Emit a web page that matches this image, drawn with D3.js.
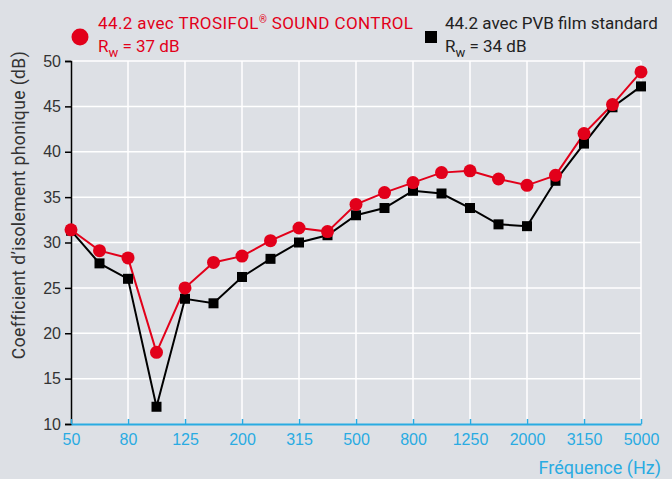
<!DOCTYPE html>
<html>
<head>
<meta charset="utf-8">
<script src="https://cdn.jsdelivr.net/npm/d3@7"></script>
<style>
  html, body { margin: 0; padding: 0; background: #dde0e5; }
  svg { display: block; font-family: Roboto, "Noto Sans", sans-serif; }
</style>
</head>
<body>
<div id="chart"></div>
<script>
// 1/3-octave bands (Hz)
const freqs = ["50", "63", "80", "100", "125", "160", "200", "250", "315", "400", "500",
  "630", "800", "1000", "1250", "1600", "2000", "2500", "3150", "4000", "5000"];
const tickLabels = ["50", "80", "125", "200", "315", "500", "800", "1250", "2000", "3150", "5000"];
const trosifol = [31.4, 29.1, 28.3, 17.9, 25.0, 27.8, 28.5, 30.2, 31.6, 31.2, 34.2,
  35.5, 36.6, 37.7, 37.9, 37.0, 36.3, 37.4, 42.0, 45.2, 48.8];
const pvb = [31.3, 27.7, 26.0, 11.9, 23.8, 23.3, 26.2, 28.2, 30.0, 30.8, 33.0,
  33.8, 35.7, 35.4, 33.8, 32.0, 31.8, 36.8, 40.9, 44.9, 47.2];
const yTicks = [10, 15, 20, 25, 30, 35, 40, 45, 50];

const W = 672, H = 479;
const m = { t: 61, r: 31, b: 55, l: 71 };
const RED = "#e2001a", BLUE = "#29abe2";

const svg = d3.select("#chart").append("svg").attr("width", W).attr("height", H);

const x = d3.scalePoint().domain(freqs).range([m.l, W - m.r]);
const y = d3.scaleLinear().domain([10, 50]).range([H - m.b, m.t]);

// grid
const grid = svg.append("g");
grid.selectAll("line.h").data(yTicks.slice(1)).join("line")
  .attr("x1", m.l).attr("x2", W - m.r)
  .attr("y1", d => y(d)).attr("y2", d => y(d))
  .attr("stroke", "#fff").attr("stroke-width", 1.5);
grid.selectAll("line.v").data(tickLabels.slice(1)).join("line")
  .attr("x1", d => x(d)).attr("x2", d => x(d))
  .attr("y1", m.t).attr("y2", H - m.b)
  .attr("stroke", "#fff").attr("stroke-width", 1.5);

// y axis
const yAxis = svg.append("g").attr("transform", `translate(${m.l},0)`)
  .call(d3.axisLeft(y).tickValues(yTicks).tickSize(6).tickPadding(4));
yAxis.select(".domain").attr("stroke", "#000").attr("stroke-width", 1.5);
yAxis.selectAll(".tick line").attr("stroke", "#000").attr("stroke-width", 1.5);
yAxis.selectAll("text").attr("fill", "#333").style("font-size", "16px");

// x axis
const xAxis = svg.append("g").attr("transform", `translate(0,${H - m.b})`)
  .call(d3.axisBottom(x).tickValues(tickLabels).tickSize(-5).tickPadding(10).tickSizeOuter(0));
xAxis.select(".domain").attr("stroke", BLUE).attr("stroke-width", 2);
xAxis.selectAll(".tick line").attr("stroke", BLUE).attr("stroke-width", 1.5);
xAxis.selectAll("text").attr("fill", BLUE).style("font-size", "16px");

// axis titles
svg.append("text")
  .attr("transform", "translate(25,205) rotate(-90)")
  .attr("text-anchor", "middle").attr("fill", "#333")
  .style("font-size", "17.5px").style("letter-spacing", "0.4px")
  .text("Coefficient d’isolement phonique (dB)");
svg.append("text")
  .attr("x", 661).attr("y", 474).attr("text-anchor", "end")
  .attr("fill", BLUE).style("font-size", "18px")
  .text("Fréquence (Hz)");

// lines
const line = vals => d3.line().x((d, i) => x(freqs[i])).y(d => y(d))(vals);
svg.append("path").attr("d", line(pvb)).attr("fill", "none").attr("stroke", "#000").attr("stroke-width", 2);
svg.append("path").attr("d", line(trosifol)).attr("fill", "none").attr("stroke", RED).attr("stroke-width", 2);

const sq = 10;
svg.append("g").selectAll("rect").data(pvb).join("rect")
  .attr("x", (d, i) => x(freqs[i]) - sq / 2).attr("y", d => y(d) - sq / 2)
  .attr("width", sq).attr("height", sq).attr("fill", "#000");
svg.append("g").selectAll("circle").data(trosifol).join("circle")
  .attr("cx", (d, i) => x(freqs[i])).attr("cy", d => y(d))
  .attr("r", 6.5).attr("fill", RED);

// legend
const lg = svg.append("g").style("font-size", "17px");
lg.append("circle").attr("cx", 80).attr("cy", 37).attr("r", 8.5).attr("fill", RED);
const t1 = lg.append("text").attr("x", 98).attr("y", 29).attr("fill", RED).style("letter-spacing", "0.4px");
t1.append("tspan").text("44.2 avec TROSIFOL");
t1.append("tspan").attr("dy", -6).style("font-size", "10px").text("®");
t1.append("tspan").attr("dy", 6).text(" SOUND CONTROL");
const t2 = lg.append("text").attr("x", 98).attr("y", 52).attr("fill", RED);
t2.append("tspan").text("R");
t2.append("tspan").attr("dy", 5).style("font-size", "13px").text("w");
t2.append("tspan").attr("dy", -5).text(" = 37 dB");

lg.append("rect").attr("x", 425).attr("y", 31).attr("width", 12).attr("height", 12).attr("fill", "#000");
lg.append("text").attr("x", 445).attr("y", 29).attr("fill", "#222").text("44.2 avec PVB film standard");
const t3 = lg.append("text").attr("x", 445).attr("y", 52).attr("fill", "#222");
t3.append("tspan").text("R");
t3.append("tspan").attr("dy", 5).style("font-size", "13px").text("w");
t3.append("tspan").attr("dy", -5).text(" = 34 dB");
</script>
</body>
</html>
